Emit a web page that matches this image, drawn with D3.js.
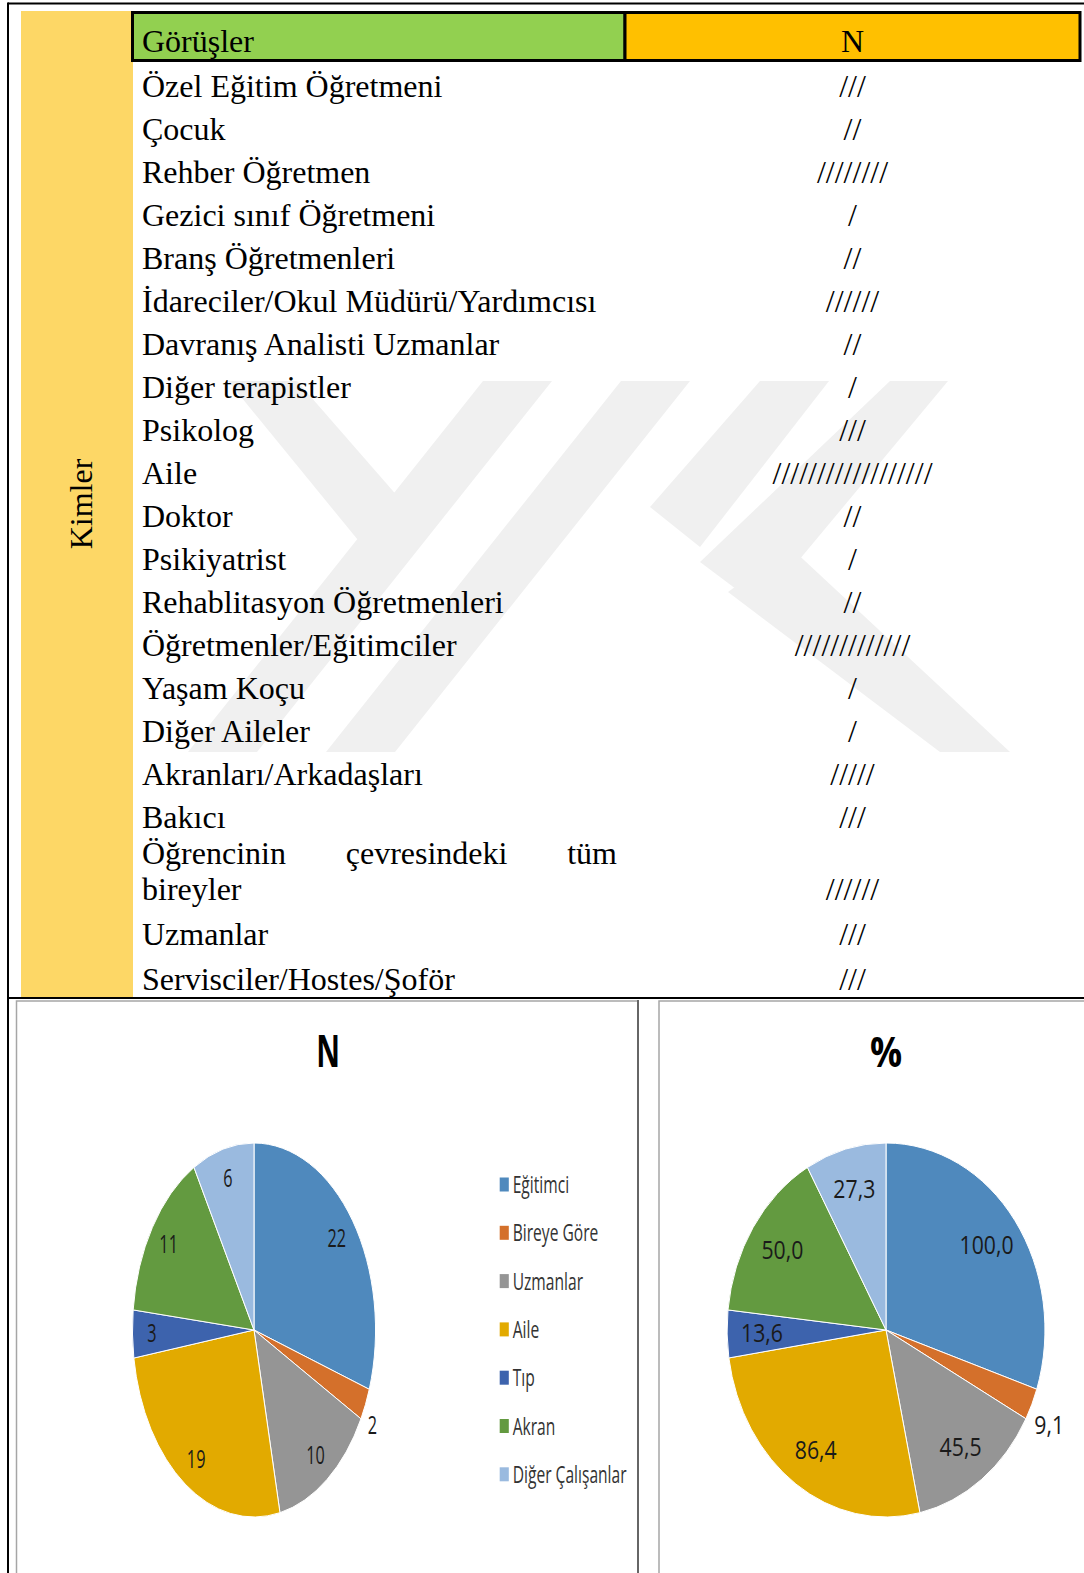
<!DOCTYPE html>
<html>
<head>
<meta charset="utf-8">
<script src="https://cdn.jsdelivr.net/npm/d3@7"></script>
<style>
  body { margin: 0; background: #fff; }
  svg { display: block; }
  .serif { font-family: "Liberation Serif", "Times New Roman", serif; font-size: 32px; fill: #000; }
  .sans { font-family: "Open Sans", "Noto Sans", sans-serif; }
</style>
</head>
<body>
<svg id="page" width="1084" height="1573"></svg>
<script>
/* global d3 */

// table
const headers = ['Görüşler', 'N']
const rowLabels = [
  ['Özel Eğitim Öğretmeni'],
  ['Çocuk'],
  ['Rehber Öğretmen'],
  ['Gezici sınıf Öğretmeni'],
  ['Branş Öğretmenleri'],
  ['İdareciler/Okul Müdürü/Yardımcısı'],
  ['Davranış Analisti Uzmanlar'],
  ['Diğer terapistler'],
  ['Psikolog'],
  ['Aile'],
  ['Doktor'],
  ['Psikiyatrist'],
  ['Rehablitasyon Öğretmenleri'],
  ['Öğretmenler/Eğitimciler'],
  ['Yaşam Koçu'],
  ['Diğer Aileler'],
  ['Akranları/Arkadaşları'],
  ['Bakıcı'],
  ['Öğrencinin çevresindeki tüm', 'bireyler'],
  ['Uzmanlar'],
  ['Servisciler/Hostes/Şoför']
]
const rowCounts = [3, 2, 8, 1, 2, 6, 2, 1, 3, 18, 2, 1, 2, 13, 1, 1, 5, 3, 6, 3, 3]
const sideLabel = 'Kimler'

// pies
const groups = ['Eğitimci', 'Bireye Göre', 'Uzmanlar', 'Aile', 'Tıp', 'Akran', 'Diğer Çalışanlar']
const nValues = [22, 2, 10, 19, 3, 11, 6]
const pctValues = [100.0, 9.1, 45.5, 86.4, 13.6, 50.0, 27.3]
const colors = ['#4f89bd', '#d4702b', '#959595', '#e2aa00', '#3d63ad', '#639a40', '#9abadf']

const svg = d3.select('#page')

// ---- faint watermark behind the table
const wm = [
  [[483, 381], [552, 381], [257, 752], [188, 752]],
  [[621, 381], [690, 381], [395, 752], [326, 752]],
  [[228, 381], [297, 381], [420, 522], [380, 567]],
  [[760, 381], [829, 381], [700, 547], [650, 507]],
  [[890, 381], [948, 381], [760, 607], [700, 562]],
  [[728, 592], [790, 547], [1010, 752], [940, 752]]
]
svg.append('g')
  .selectAll('path')
  .data(wm)
  .join('path')
  .attr('d', d => 'M' + d.join('L') + 'Z')
  .attr('fill', '#f0f0f0')

// ---- page frame
svg.append('rect').attr('x', 21).attr('y', 11).attr('width', 112).attr('height', 986).attr('fill', '#fdd766')

const frame = svg.append('g').attr('stroke', '#000').attr('stroke-width', 2)
frame.append('line').attr('x1', 8).attr('x2', 1084).attr('y1', 3.5).attr('y2', 3.5)
frame.append('line').attr('x1', 8).attr('x2', 8).attr('y1', 2.5).attr('y2', 1573)
frame.append('line').attr('x1', 8).attr('x2', 1084).attr('y1', 998).attr('y2', 998)

// ---- header
const colX = d3.scaleOrdinal().domain(headers).range([132.5, 625])
const colW = d3.scaleOrdinal().domain(headers).range([625 - 132.5, 1080 - 625])
const headFill = d3.scaleOrdinal().domain(headers).range(['#92d050', '#ffc000'])

const head = svg.append('g')
head.selectAll('rect')
  .data(headers)
  .join('rect')
  .attr('x', d => colX(d))
  .attr('y', 12.5)
  .attr('width', d => colW(d))
  .attr('height', 48)
  .attr('fill', d => headFill(d))
  .attr('stroke', '#000')
  .attr('stroke-width', 3)

head.append('text').attr('class', 'serif')
  .attr('x', 142).attr('y', 52).text(headers[0])
head.append('text').attr('class', 'serif')
  .attr('x', colX('N') + colW('N') / 2).attr('y', 52)
  .attr('text-anchor', 'middle').text(headers[1])

svg.append('text').attr('class', 'serif')
  .attr('transform', 'translate(92,504) rotate(-90)')
  .attr('text-anchor', 'middle')
  .text(sideLabel)

// ---- rows: slot index -> baseline
const y = d3.scaleLinear().domain([0, 1]).range([97.3, 140.3])
const lines = []
let slot = 0
let afterWrap = false
rowLabels.forEach((r, i) => {
  if (i > 0) slot += (r.length > 1 ? 0.84 : (afterWrap ? 1.05 : 1))
  if (r.length > 1) afterWrap = true
  r.forEach((t, j) => {
    if (j > 0) slot += 0.82
    lines.push({ text: t, slot, row: i, last: j === r.length - 1, wrap: r.length > 1 && j < r.length - 1 })
  })
})

const body = svg.append('g')
lines.forEach(l => {
  if (l.wrap) {
    // justified line
    const words = l.text.split(' ')
    const ts = words.map(w => body.append('text').attr('class', 'serif').attr('y', y(l.slot)).text(w))
    const widths = ts.map(t => t.node().getComputedTextLength())
    const gap = (617 - 142 - d3.sum(widths)) / (words.length - 1)
    let x = 142
    ts.forEach((t, k) => { t.attr('x', x); x += widths[k] + gap })
  } else {
    body.append('text').attr('class', 'serif').attr('x', 142).attr('y', y(l.slot)).text(l.text)
  }
  if (l.last) {
    body.append('text').attr('class', 'serif')
      .attr('x', colX('N') + colW('N') / 2)
      .attr('y', y(l.slot))
      .attr('text-anchor', 'middle')
      .text('/'.repeat(rowCounts[l.row]))
  }
})

// ---- chart panels
const panels = svg.append('g').attr('fill', 'none')
panels.append('path').attr('d', 'M16.5,1573V1001H637').attr('stroke', '#a6a6a6').attr('stroke-width', 1.5)
panels.append('line').attr('x1', 638).attr('x2', 638).attr('y1', 1000).attr('y2', 1573).attr('stroke', '#333').attr('stroke-width', 1.5)
panels.append('path').attr('d', 'M659,1573V1001H1084').attr('stroke', '#a6a6a6').attr('stroke-width', 1.5)

const R = 187
const pie = d3.pie().sort(null).value(d => d)
const arc = d3.arc().innerRadius(0).outerRadius(R)
const edgeArc = d3.arc().innerRadius(R * 1.01).outerRadius(R * 1.01)

function drawPie (values, cx, cy, sx, title, titleDx, titleSize, labelK, fmt, legend) {
  const g = svg.append('g').attr('transform', `translate(${cx},${cy}) scale(${sx},1)`)
  const arcs = pie(values)
  const inArc = d3.arc().innerRadius(R * labelK).outerRadius(R * labelK)

  g.selectAll('path')
    .data(arcs)
    .join('path')
    .attr('d', arc)
    .attr('fill', (d, i) => colors[i])
    .attr('stroke', '#fff')
    .attr('stroke-width', 1)
    .attr('vector-effect', 'non-scaling-stroke')

  g.selectAll('text.lbl')
    .data(arcs)
    .join('text')
    .attr('class', 'lbl sans')
    .each(function (d) {
      const small = d.endAngle - d.startAngle < 0.2
      const t = d3.select(this)
      if (small) {
        // outside label, its top-left corner against the rim
        const [px, py] = edgeArc.centroid(d)
        t.attr('x', px + 1 / sx).attr('y', py + 20).attr('text-anchor', 'start')
      } else {
        const [px, py] = inArc.centroid(d)
        t.attr('x', px).attr('y', py).attr('text-anchor', 'middle')
      }
    })
    .attr('dy', '0.36em')
    .attr('font-size', 25)
    .attr('fill', '#1a1a1a')
    .text(d => fmt(d.data))

  g.append('text')
    .attr('class', 'sans')
    .attr('x', titleDx)
    .attr('y', 1067 - cy)
    .attr('text-anchor', 'middle')
    .attr('font-size', titleSize)
    .attr('font-weight', 700)
    .attr('fill', '#000')
    .text(title)

  if (legend) {
    const ly = d3.scaleLinear().domain([0, 1]).range([1184.5 - cy, 1232.8 - cy])
    const lg = g.append('g')
    groups.forEach((name, i) => {
      lg.append('rect')
        .attr('x', 378)
        .attr('y', ly(i) - 7)
        .attr('width', 14)
        .attr('height', 14)
        .attr('fill', colors[i])
      lg.append('text')
        .attr('class', 'sans')
        .attr('x', 398)
        .attr('y', ly(i))
        .attr('dy', '0.36em')
        .attr('font-size', 24)
        .attr('fill', '#333')
        .text(name)
    })
  }
}

const fmtN = d => String(d)
const fmtPct = d => d3.format('.1f')(d).replace('.', ',')

drawPie(nValues, 254, 1330, 0.65, 'N', 114, 45, 0.84, fmtN, true)
drawPie(pctValues, 886, 1330, 0.85, '%', 0, 42, 0.78, fmtPct, false)
</script>
</body>
</html>
